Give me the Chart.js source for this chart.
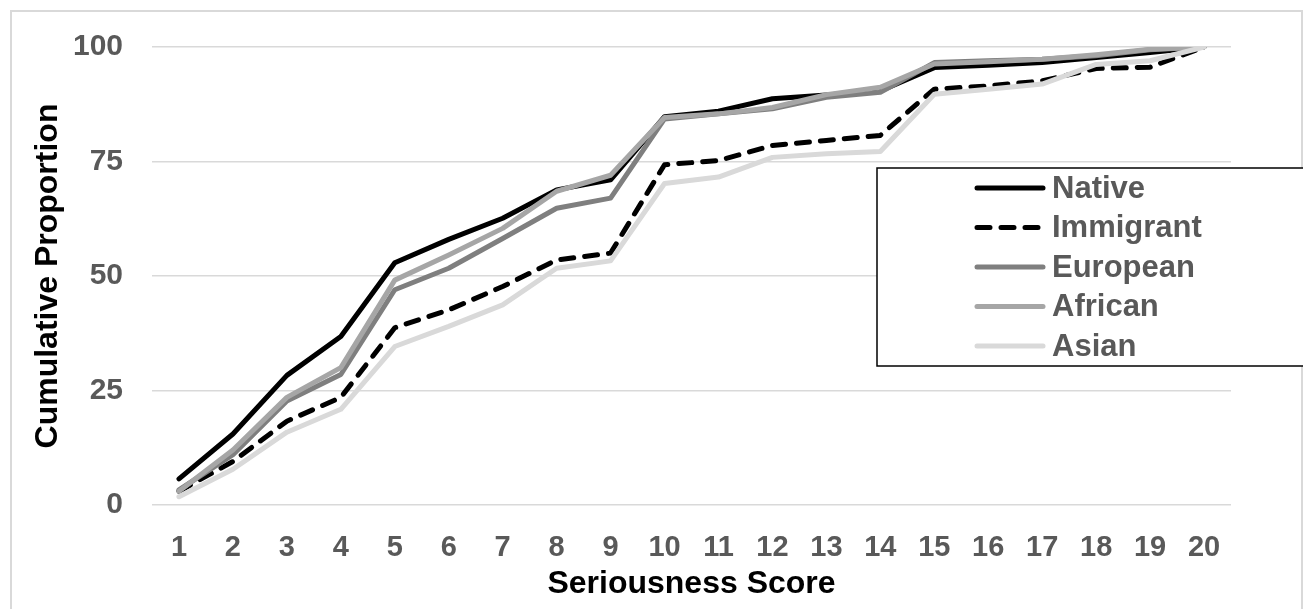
<!DOCTYPE html>
<html>
<head>
<meta charset="utf-8">
<script src="https://cdn.jsdelivr.net/npm/chart.js@4"></script>
<style>
    html, body { margin: 0; padding: 0; background: #fff; overflow: hidden; }
    #wrap { position: relative; width: 1303px; height: 609px; }
    #frame {
        position: absolute; left: 10px; top: 10px; width: 1293px; height: 640px;
        box-sizing: border-box; border: 2px solid #d9d9d9;
    }
    #chart { position: absolute; left: 0; top: 0; }
</style>
</head>
<body>
<div id="wrap">
    <div id="frame"></div>
    <canvas id="chart" width="1303" height="609"></canvas>
</div>
<script>
// seriousness score categories
const scores = ['1', '2', '3', '4', '5', '6', '7', '8', '9', '10', '11', '12', '13', '14', '15', '16', '17', '18', '19', '20'];
const yTicks = [0, 25, 50, 75, 100];

// cumulative proportions
const native    = [5.7, 15.5, 28.3, 36.8, 52.9, 58.0, 62.6, 68.8, 71.0, 84.8, 86.0, 88.7, 89.5, 90.4, 95.5, 96.0, 96.6, 97.7, 98.8, 100];
const immigrant = [3.0, 9.5, 18.3, 23.5, 38.7, 42.6, 47.7, 53.5, 55.0, 74.3, 75.2, 78.5, 79.6, 80.7, 90.8, 91.5, 92.6, 95.3, 95.6, 100];
const european  = [3.3, 11.0, 22.7, 28.5, 47.0, 51.7, 58.2, 64.8, 67.0, 84.3, 85.4, 86.5, 89.0, 90.1, 96.6, 97.0, 97.3, 98.1, 99.4, 100];
const african   = [3.0, 12.0, 23.5, 30.0, 49.1, 54.6, 60.4, 68.5, 72.0, 84.6, 85.4, 86.8, 89.6, 91.2, 96.3, 96.8, 97.3, 98.3, 99.5, 100];
const asian     = [1.8, 7.8, 15.9, 20.9, 34.6, 39.0, 43.7, 51.7, 53.3, 70.2, 71.6, 75.9, 76.7, 77.2, 89.7, 90.8, 91.9, 96.2, 97.0, 100];

const FONT = 'Arial, "Liberation Sans", sans-serif';

// legend box drawn inside the plot, like the original
const boxLegend = {
    id: 'boxLegend',
    afterDatasetsDraw(chart) {
        const ctx = chart.ctx;
        const sets = chart.data.datasets;
        ctx.save();
        ctx.fillStyle = '#fff';
        ctx.fillRect(877, 168, 430, 198);
        ctx.strokeStyle = '#000';
        ctx.lineWidth = 1.5;
        ctx.strokeRect(877, 168, 430, 198);
        ctx.font = 'bold 31px ' + FONT;
        ctx.textBaseline = 'middle';
        ctx.textAlign = 'left';
        sets.forEach((ds, i) => {
            const y = 188 + i * 39.5;
            ctx.beginPath();
            ctx.strokeStyle = ds.borderColor;
            ctx.lineWidth = ds.borderWidth;
            ctx.lineCap = 'round';
            ctx.setLineDash(ds.borderDash || []);
            ctx.moveTo(977, y);
            ctx.lineTo(1043, y);
            ctx.stroke();
            ctx.setLineDash([]);
            ctx.fillStyle = '#595959';
            ctx.fillText(ds.label, 1052, y + 1);
        });
        ctx.restore();
    }
};

function series(label, data, color, dash, order) {
    return {
        label, data,
        borderColor: color,
        backgroundColor: color,
        borderWidth: 5,
        borderDash: dash,
        borderCapStyle: 'round',
        borderJoinStyle: 'round',
        pointRadius: 0,
        tension: 0,
        fill: false,
        order
    };
}

new Chart(document.getElementById('chart'), {
    type: 'line',
    data: {
        labels: scores,
        datasets: [
            series('Native', native, '#000000', [], 5),
            series('Immigrant', immigrant, '#000000', [13, 11], 4),
            series('European', european, '#7f7f7f', [], 3),
            series('African', african, '#a6a6a6', [], 2),
            series('Asian', asian, '#d9d9d9', [], 1)
        ]
    },
    options: {
        responsive: false,
        animation: false,
        devicePixelRatio: 1,
        layout: { padding: { top: 46, right: 72, left: 0, bottom: 0 } },
        plugins: {
            legend: { display: false },
            tooltip: { enabled: false }
        },
        scales: {
            x: {
                type: 'category',
                offset: true,
                grid: { display: false },
                border: { display: false },
                ticks: {
                    color: '#595959',
                    font: { family: FONT, size: 29, weight: 'bold' },
                    padding: 18,
                    maxRotation: 0,
                    autoSkip: false
                },
                title: {
                    display: true,
                    text: 'Seriousness Score',
                    color: '#000',
                    font: { family: FONT, size: 32, weight: 'bold' },
                    padding: { top: 0, bottom: 6 }
                },
                afterFit(scale) { scale.height = 104; }
            },
            y: {
                min: 0,
                max: 100,
                afterBuildTicks(scale) { scale.ticks = yTicks.map(v => ({ value: v })); },
                grid: { color: '#d9d9d9', lineWidth: 1.5, drawTicks: false },
                border: { display: false },
                ticks: {
                    color: '#595959',
                    font: { family: FONT, size: 30, weight: 'bold' },
                    padding: 29
                },
                title: {
                    display: true,
                    text: 'Cumulative Proportion',
                    color: '#000',
                    font: { family: FONT, size: 32, weight: 'bold' },
                    padding: { top: 29, bottom: 0 }
                },
                afterFit(scale) { scale.width = 152; }
            }
        }
    },
    plugins: [boxLegend]
});
</script>
</body>
</html>
